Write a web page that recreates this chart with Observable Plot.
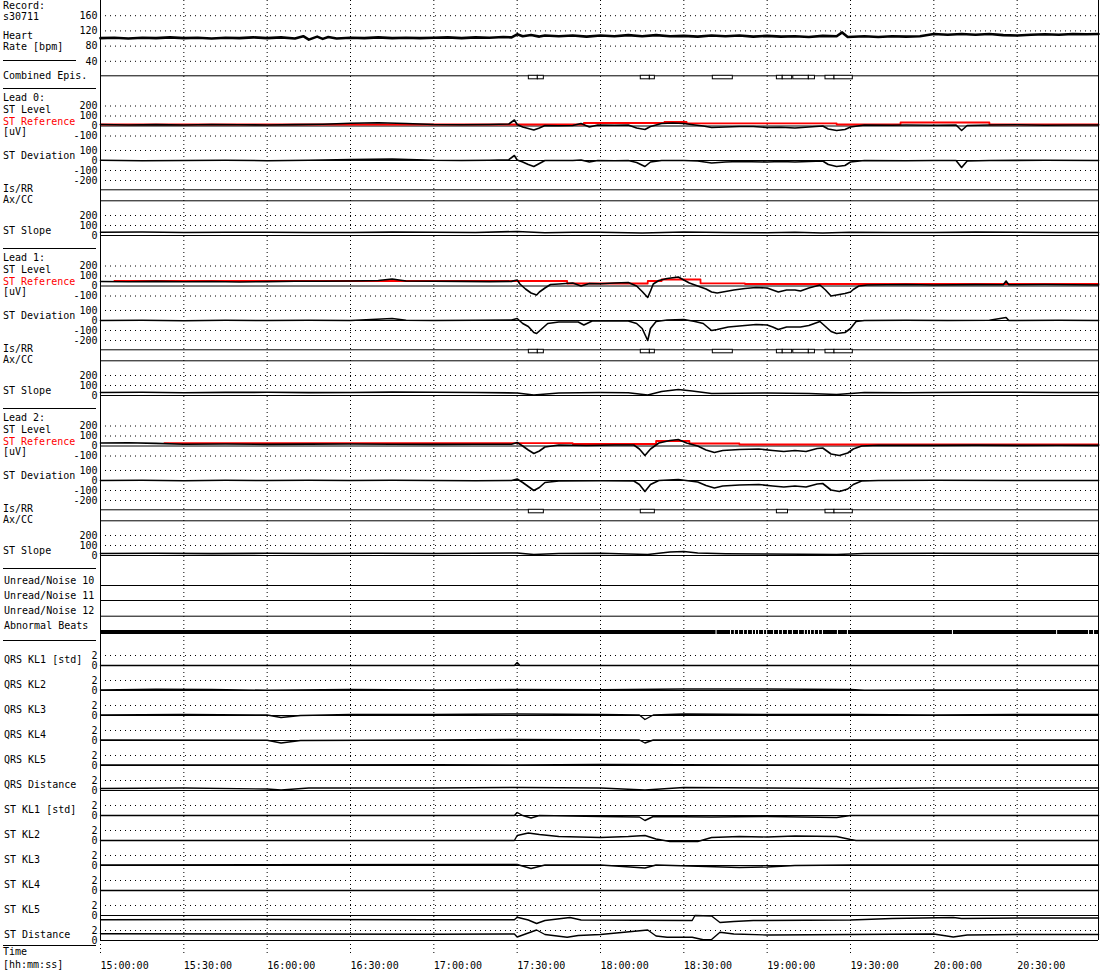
<!DOCTYPE html>
<html><head><meta charset="utf-8">
<script src="https://cdn.jsdelivr.net/npm/d3@7"></script>
<script src="https://cdn.jsdelivr.net/npm/@observablehq/plot@0.6"></script>
<style>
body{margin:0;background:#fff;}
#chart{position:relative;width:1100px;height:970px;font-family:"DejaVu Sans Mono",monospace;font-size:10px;color:#000;}
#chart svg{position:absolute;left:0;top:0;}
.lbl{position:absolute;white-space:pre;line-height:10px;transform:translateY(-50%);}
.sep{position:absolute;height:0;border-top:1px solid #000;}
</style></head><body><div id="chart"></div><script>
// ---------------- DATA ----------------
const RECORD = "s30711";
const START = "15:00", END = "20:59:17", AXIS_END = "21:00";
const timeTicks = ["15:00","15:30","16:00","16:30","17:00","17:30","18:00","18:30","19:00","19:30","20:00","20:30"];
const hrTicks = [40, 80, 120, 160];
const levelTicks = [-100, 0, 100, 200];
const devTicks = [-200, -100, 0, 100];
const slopeTicks = [0, 100, 200];
const klTicks = [0, 2];

const heartRate = [["15:00",101],["15:05",102],["15:10",100],["15:15",102],["15:20",101],["15:25",103],["15:30",101],["15:35",102],["15:40",100],["15:45",102],["15:50",101],["15:55",103],["16:00",101],["16:05",103],["16:10",100],["16:13",106],["16:15",97],["16:18",105],["16:20",99],["16:22",104],["16:25",100],["16:30",102],["16:35",101],["16:40",103],["16:45",101],["16:50",102],["16:55",101],["17:00",102],["17:05",103],["17:10",101],["17:15",103],["17:20",102],["17:25",104],["17:28",103],["17:30",111],["17:32",106],["17:35",109],["17:38",105],["17:40",108],["17:45",106],["17:50",108],["17:55",105],["18:00",108],["18:05",106],["18:10",109],["18:15",106],["18:20",109],["18:25",106],["18:30",107],["18:35",105],["18:40",108],["18:45",106],["18:50",108],["18:55",105],["19:00",107],["19:05",105],["19:10",106],["19:15",104],["19:20",107],["19:25",106],["19:27",116],["19:29",104],["19:35",106],["19:40",104],["19:45",106],["19:50",105],["19:55",106],["20:00",112],["20:05",110],["20:10",112],["20:15",110],["20:20",112],["20:25",109],["20:30",108],["20:35",110],["20:40",111],["20:45",110],["20:50",112],["20:55",111],["20:59:17",112]];

const combinedEpisodes = [["17:34:12","17:37:26"],["17:37:26","17:39:36"],["18:14:30","18:17:46"],["18:17:46","18:19:34"],["18:40:26","18:47:38"],["19:03:30","19:05:36"],["19:05:36","19:09:00"],["19:09:24","19:15:00"],["19:15:00","19:17:12"],["19:21:00","19:24:14"],["19:24:14","19:30:50"]];
const lead0Episodes = [];
const lead1Episodes = [["17:34:12","17:37:26"],["17:37:26","17:39:36"],["18:14:30","18:17:46"],["18:17:46","18:19:34"],["18:40:26","18:47:38"],["19:03:30","19:05:36"],["19:05:36","19:09:00"],["19:09:24","19:15:00"],["19:15:00","19:17:12"],["19:21:00","19:24:14"],["19:24:14","19:30:50"]];
const lead2Episodes = [["17:34:12","17:39:36"],["18:14:30","18:19:34"],["19:03:30","19:07:30"],["19:21:00","19:24:14"],["19:24:14","19:30:50"]];

const abnormalGaps = ["18:41:36","18:46:48","18:48:12","18:49:42","18:51:30","18:52:54","18:54:42","18:55:48","18:56:54","18:58:42","18:59:48","19:02:18","19:04:06","19:05:30","19:07:18","19:09:06","19:11:18","19:13:24","19:14:30","19:15:36","19:17:00","19:18:30","19:19:54","19:25:18","19:28:54","20:06:42","20:44:12","20:55:42","20:57:30"];

const lead0Level = [["15:00",15],["15:10",10],["15:20",14],["15:30",10],["15:40",15],["15:50",12],["16:00",10],["16:10",14],["16:20",18],["16:30",28],["16:40",32],["16:50",25],["17:00",15],["17:10",12],["17:20",15],["17:27",20],["17:29",60],["17:30",15],["17:32",-10],["17:34",-25],["17:36",-40],["17:38",-20],["17:40",5],["17:45",2],["17:50",5],["17:53",25],["17:56",-10],["17:59",10],["18:05",8],["18:10",10],["18:13",-20],["18:16",-35],["18:18",-5],["18:22",25],["18:26",30],["18:30",25],["18:34",10],["18:37",0],["18:40",-15],["18:45",-10],["18:50",-5],["18:55",-5],["19:00",-15],["19:05",-12],["19:10",-20],["19:15",-10],["19:20",0],["19:22",-30],["19:25",-45],["19:28",-35],["19:30",-10],["19:35",10],["19:45",8],["19:50",10],["20:00",8],["20:08",10],["20:10",-45],["20:12",5],["20:20",10],["20:30",12],["20:40",8],["20:50",10],["20:59:17",10]];
const lead0Ref = [["15:00",15],["17:54",15],["17:54:01",30],["18:23",30],["18:23:01",40],["18:31",40],["18:31:01",27],["19:25",27],["19:25:01",15],["19:48",15],["19:48:01",35],["20:20",35],["20:20:01",15],["20:59:17",15]];
const lead0Dev = [["15:00",2],["15:15",-2],["15:30",0],["15:45",3],["16:00",-2],["16:15",2],["16:30",10],["16:45",15],["17:00",2],["17:10",0],["17:20",3],["17:27",8],["17:29",50],["17:30",5],["17:32",-15],["17:34",-40],["17:36",-60],["17:38",-30],["17:40",0],["17:50",0],["17:53",5],["17:56",-15],["17:59",0],["18:05",-2],["18:10",0],["18:13",-20],["18:16",-60],["18:18",-15],["18:22",0],["18:30",0],["18:35",-5],["18:40",-25],["18:45",-15],["18:50",-10],["19:00",-15],["19:05",-10],["19:10",-15],["19:15",-10],["19:20",-5],["19:22",-40],["19:25",-60],["19:28",-50],["19:30",-15],["19:35",0],["19:50",-2],["20:00",0],["20:08",0],["20:10",-70],["20:12",-5],["20:20",0],["20:40",2],["20:59:17",0]];
const lead0Slope = [["15:00",32],["15:15",35],["15:30",30],["15:45",33],["16:00",33],["16:15",30],["16:30",30],["16:45",34],["17:00",32],["17:15",30],["17:30",40],["17:40",28],["17:50",32],["18:00",33],["18:15",25],["18:30",35],["18:45",30],["19:00",28],["19:10",32],["19:20",25],["19:30",32],["19:45",30],["20:00",30],["20:15",34],["20:30",33],["20:45",30],["20:59:17",30]];

const lead1Level = [["15:00",45],["15:10",42],["15:20",46],["15:30",42],["15:40",45],["15:50",40],["16:00",44],["16:10",48],["16:20",47],["16:30",50],["16:40",55],["16:45",70],["16:50",50],["17:00",48],["17:10",46],["17:20",44],["17:28",46],["17:30",60],["17:31",20],["17:33",-30],["17:35",-70],["17:37",-90],["17:38",-60],["17:40",-20],["17:42",15],["17:45",20],["17:50",30],["17:53",0],["17:56",25],["18:00",22],["18:05",30],["18:10",35],["18:13",0],["18:15",-55],["18:17",-115],["18:18",-50],["18:19",20],["18:21",55],["18:24",75],["18:28",90],["18:30",60],["18:32",30],["18:35",0],["18:38",-30],["18:40",-60],["18:42",-70],["18:45",-55],["18:48",-40],["18:52",-25],["18:56",-15],["19:00",-20],["19:02",-40],["19:04",-60],["19:07",-40],["19:10",-40],["19:12",-50],["19:15",-20],["19:19",10],["19:21",-40],["19:23",-100],["19:25",-90],["19:28",-75],["19:30",-60],["19:31",-35],["19:33",0],["19:36",10],["19:50",15],["20:00",10],["20:15",14],["20:25",12],["20:26",50],["20:27",12],["20:40",15],["20:50",12],["20:59:17",10]];
const lead1Ref = [["15:05",50],["17:48",50],["17:48:01",25],["18:17",25],["18:17:01",50],["18:22",50],["18:22:01",65],["18:36",65],["18:36:01",27],["18:52",27],["18:52:01",20],["20:59:17",20]];
const lead1Dev = [["15:00",0],["15:15",3],["15:30",-2],["15:45",2],["16:00",0],["16:15",3],["16:30",0],["16:45",20],["16:50",2],["17:00",0],["17:15",2],["17:28",5],["17:30",20],["17:32",-30],["17:34",-60],["17:36",-120],["17:37",-130],["17:39",-80],["17:41",-30],["17:45",-15],["17:52",-15],["17:54",-45],["17:57",-5],["18:05",-2],["18:10",-5],["18:13",-30],["18:15",-80],["18:17",-200],["18:18",-80],["18:20",-10],["18:24",5],["18:30",10],["18:34",-10],["18:37",-30],["18:40",-100],["18:42",-90],["18:46",-65],["18:52",-50],["18:56",-40],["19:00",-45],["19:02",-65],["19:04",-90],["19:07",-65],["19:12",-65],["19:15",-50],["19:19",-10],["19:21",-60],["19:23",-110],["19:25",-130],["19:28",-120],["19:30",-80],["19:32",-10],["19:35",0],["19:50",2],["20:05",0],["20:20",3],["20:26",30],["20:27",0],["20:45",2],["20:59:17",0]];
const lead1Slope = [["15:00",30],["15:15",33],["15:30",28],["15:45",31],["16:00",32],["16:15",29],["16:30",30],["16:45",34],["17:00",33],["17:15",30],["17:30",25],["17:36",5],["17:45",25],["18:00",30],["18:10",28],["18:17",5],["18:22",40],["18:28",60],["18:33",45],["18:40",20],["18:50",22],["19:00",25],["19:15",20],["19:25",10],["19:35",30],["19:50",28],["20:00",30],["20:15",33],["20:30",32],["20:45",30],["20:59:17",30]];

const lead2Level = [["15:00",30],["15:10",32],["15:20",26],["15:30",18],["15:45",20],["16:00",16],["16:15",19],["16:30",20],["16:45",17],["17:00",16],["17:15",18],["17:28",17],["17:30",35],["17:32",0],["17:34",-40],["17:36",-75],["17:38",-50],["17:40",-10],["17:45",10],["17:55",5],["18:05",10],["18:12",10],["18:14",-30],["18:16",-95],["18:18",-30],["18:21",30],["18:25",55],["18:28",65],["18:31",30],["18:35",0],["18:38",-40],["18:41",-65],["18:44",-45],["18:50",-35],["18:57",-30],["19:02",-45],["19:06",-55],["19:10",-45],["19:14",-55],["19:18",-25],["19:20",-20],["19:23",-80],["19:26",-95],["19:29",-70],["19:31",-30],["19:34",0],["19:40",8],["20:00",6],["20:15",9],["20:30",6],["20:45",8],["20:59:17",6]];
const lead2Ref = [["15:23",28],["17:50",28],["17:50:01",20],["18:20",20],["18:20:01",50],["18:32",50],["18:32:01",25],["18:50",25],["18:50:01",15],["20:59:17",15]];
const lead2Dev = [["15:00",0],["15:15",2],["15:30",-2],["15:45",2],["16:00",0],["16:15",2],["16:30",0],["16:45",2],["17:00",0],["17:15",-2],["17:28",0],["17:30",15],["17:32",-20],["17:34",-60],["17:36",-100],["17:38",-70],["17:40",-20],["17:45",-5],["18:00",-2],["18:12",-5],["18:14",-40],["18:16",-110],["18:18",-40],["18:21",0],["18:28",10],["18:35",-15],["18:38",-50],["18:41",-75],["18:44",-55],["18:50",-45],["18:57",-40],["19:02",-55],["19:06",-65],["19:10",-55],["19:14",-65],["19:18",-35],["19:20",-30],["19:23",-95],["19:26",-110],["19:29",-85],["19:31",-40],["19:34",-5],["19:40",0],["20:00",2],["20:30",0],["20:59:17",0]];
const lead2Slope = [["15:00",20],["15:20",22],["15:40",19],["16:00",22],["16:20",20],["16:40",23],["17:00",20],["17:15",22],["17:30",25],["17:36",10],["17:45",20],["18:00",22],["18:17",10],["18:25",35],["18:30",40],["18:35",25],["18:45",18],["19:00",15],["19:25",10],["19:35",20],["20:00",22],["20:30",20],["20:59:17",20]];

const qrsKL1 = [["15:00",0],["17:29",0],["17:30",0.6],["17:31",0],["20:59:17",0]];
const qrsKL2 = [["15:00",0.1],["15:20",0.25],["15:40",0.2],["16:00",0.05],["16:30",0.2],["17:00",0.1],["17:30",0.2],["18:00",0.15],["18:30",0.3],["19:00",0.3],["19:30",0.2],["19:35",0.05],["20:00",0.1],["20:30",0.1],["20:59:17",0.1]];
const qrsKL3 = [["15:00",0.1],["15:30",0.2],["16:00",0.1],["16:05",-0.4],["16:12",0.0],["16:30",0.2],["17:00",0.2],["17:30",0.3],["18:00",0.2],["18:14",0.1],["18:16",-0.8],["18:19",0.1],["18:30",0.3],["19:00",0.2],["19:30",0.2],["20:00",0.1],["20:30",0.2],["20:59:17",0.2]];
const qrsKL4 = [["15:00",0.1],["16:00",0.05],["16:05",-0.5],["16:12",0],["17:00",0.1],["17:30",0.2],["18:14",0.1],["18:16",-0.5],["18:19",0.1],["19:00",0.1],["20:00",0.1],["20:59:17",0.1]];
const qrsKL5 = [["15:00",0.1],["16:00",0.1],["17:00",0.15],["17:30",0.1],["18:00",0.2],["19:00",0.1],["20:00",0.1],["20:59:17",0.1]];
const qrsDistance = [["15:00",0.4],["15:30",0.5],["16:00",0.3],["16:05",0.1],["16:15",0.5],["17:00",0.5],["17:30",0.6],["18:00",0.5],["18:16",0.1],["18:30",0.6],["19:00",0.5],["19:30",0.4],["20:00",0.5],["20:59:17",0.5]];
const stKL1 = [["15:00",0],["17:29",0],["17:30",0.6],["17:32",0],["17:35",-0.5],["17:38",0],["18:00",-0.2],["18:14",-0.3],["18:16",-1.0],["18:19",-0.2],["18:40",-0.3],["19:00",-0.2],["19:25",-0.4],["19:30",0],["20:59:17",0]];
const stKL2 = [["15:00",0],["17:29",0],["17:30",1.0],["17:34",1.5],["17:38",1.2],["17:45",0.8],["18:00",0.6],["18:10",0.8],["18:16",1.0],["18:20",0.3],["18:25",-0.2],["18:35",-0.2],["18:40",0.6],["18:50",0.8],["19:00",0.7],["19:10",0.9],["19:25",0.8],["19:30",0.2],["19:32",0],["20:59:17",0]];
const stKL3 = [["15:00",0.1],["17:30",0.2],["17:35",-0.6],["17:40",0.1],["18:00",0.1],["18:16",-0.5],["18:20",0.1],["18:50",-0.4],["19:00",-0.3],["19:10",0],["19:30",0.1],["20:59:17",0.1]];
const stKL4 = [["15:00",0],["20:59:17",0]];
const stKL5 = [["15:00",-0.85],["16:00",-0.8],["17:00",-0.85],["17:29",-0.85],["17:30",-0.35],["17:34",-0.9],["17:37",-1.6],["17:40",-1.0],["17:46",-0.6],["17:49",-0.4],["17:53",-0.9],["18:33",-1.0],["18:34",0],["18:40",-0.1],["18:43",-1.4],["18:48",-1.2],["18:55",-1.0],["19:30",-0.9],["19:45",-0.6],["20:07",-0.4],["20:10",-0.6],["20:30",-0.5],["20:59:17",-0.5]];
const stDistance = [["15:00",1.35],["16:00",1.3],["17:00",1.25],["17:29",1.3],["17:30",0.7],["17:37",2.1],["17:40",1.2],["17:48",0.65],["17:52",1.0],["18:00",1.2],["18:17",2.1],["18:20",0.9],["18:24",0.65],["18:33",0.65],["18:37",0.15],["18:40",0.2],["18:43",1.65],["18:48",1.3],["19:00",1.1],["19:30",1.2],["20:00",1.3],["20:07",0.7],["20:12",1.1],["20:30",1.2],["20:59:17",1.2]];

// ---------------- HELPERS ----------------
const FONT = '"DejaVu Sans Mono", monospace';
const clock = s => { const [h, m, sec = 0] = s.split(":").map(Number); return new Date(2000, 0, 1, h, m, sec); };
const T0 = clock(START), TEND = clock(END), T1 = clock(AXIS_END);
const rows = pairs => pairs.map(([t, v]) => ({t: clock(t), v}));
const chart = document.getElementById("chart");
const W = 1100, H = 970;
const styleObj = {position: "absolute", left: "0px", top: "0px", background: "transparent", fontFamily: FONT, fontSize: "10px", overflow: "visible"};

function overlay(y, marks) {
  chart.appendChild(Plot.plot({
    width: W, height: H, marginLeft: 100, marginRight: 0, marginTop: 0, marginBottom: 0,
    x: {type: "time", domain: [T0, T1], axis: null},
    y: {...y, axis: null},
    style: styleObj,
    marks
  }));
}
const fromT0 = () => T0, toEnd = () => TEND;
const dotted = vals => Plot.ruleY(vals, {x1: fromT0, x2: toEnd, stroke: "#000", strokeDasharray: "1,4"});
const solid = vals => Plot.ruleY(vals, {x1: fromT0, x2: toEnd, stroke: "#000", strokeWidth: 1});
const yAxis = ticks => Plot.axisY(ticks, {anchor: "left", tickSize: 0, tickPadding: 3, tickFormat: d => String(d), label: null, fontSize: 10});
const trace = (data, color = "#000", w = 1.5) => Plot.line(rows(data), {x: "t", y: "v", stroke: color, strokeWidth: w, curve: "linear"});

// background: vertical grid + time axis
chart.appendChild(Plot.plot({
  width: W, height: H, marginLeft: 100, marginRight: 0, marginTop: 0, marginBottom: 15,
  x: {type: "time", domain: [T0, T1]},
  style: styleObj,
  marks: [
    Plot.ruleX(timeTicks.map(clock), {stroke: "#000", strokeDasharray: "1,3"}),
    Plot.axisX(timeTicks.map(clock), {anchor: "bottom", tickSize: 0, tickPadding: 6, textAnchor: "start", tickFormat: d3.timeFormat("%H:%M:%S"), label: null, fontSize: 10})
  ]
}));

// heart rate
overlay({domain: [40, 160], range: [60.8, 15.2]}, [
  dotted(hrTicks), yAxis(hrTicks), trace(heartRate, "#000", 2.6)
]);

// episode rows
function episodes(lineY, eps) {
  overlay({domain: [0, 1], range: [lineY, lineY + 3.5]}, [
    solid([0]),
    Plot.rect(eps, {x1: d => clock(d[0]), x2: d => clock(d[1]), y1: 0, y2: 1, fill: "white", stroke: "#000", strokeWidth: 1})
  ]);
}
episodes(75.3, combinedEpisodes);

// leads
const leads = [
  {level: lead0Level, ref: lead0Ref, dev: lead0Dev, slope: lead0Slope, eps: lead0Episodes},
  {level: lead1Level, ref: lead1Ref, dev: lead1Dev, slope: lead1Slope, eps: lead1Episodes},
  {level: lead2Level, ref: lead2Ref, dev: lead2Dev, slope: lead2Slope, eps: lead2Episodes}
];
leads.forEach((L, i) => {
  const o = 160 * i;
  overlay({domain: [-100, 200], range: [135.5 + o, 105.5 + o]}, [
    dotted([-100, 100, 200]), solid([0]), yAxis(levelTicks), trace(L.ref, "#ff0000", 1.8), trace(L.level, "#000", 1.6)
  ]);
  overlay({domain: [-200, 100], range: [180 + o, 150 + o]}, [
    dotted([-200, -100, 100]), solid([0]), yAxis(devTicks), trace(L.dev, "#000", 1.6)
  ]);
  episodes(189.3 + o, L.eps);
  episodes(200.3 + o, []);
  overlay({domain: [0, 200], range: [235 + o, 215 + o]}, [
    dotted([100, 200]), solid([0]), yAxis(slopeTicks), trace(L.slope, "#000", 1.6)
  ]);
});

// noise rows
[585, 600, 615.7].forEach(yy => episodes(yy, []));
// abnormal beats
overlay({domain: [0, 1], range: [630, 634]}, [
  Plot.rect([0], {x1: fromT0, x2: toEnd, y1: 0, y2: 1, fill: "#000"}),
  Plot.ruleX(abnormalGaps.map(clock), {y1: 0, y2: 1, stroke: "#fff", strokeWidth: 1})
]);

// KL rows
const klSeries = [qrsKL1, qrsKL2, qrsKL3, qrsKL4, qrsKL5, qrsDistance, stKL1, stKL2, stKL3, stKL4, stKL5, stDistance];
klSeries.forEach((s, k) => {
  overlay({domain: [0, 2], range: [665 + 25 * k, 655 + 25 * k]}, [
    dotted([2]), solid([0]), yAxis(klTicks), trace(s, "#000", 1.4)
  ]);
});

// frame
overlay({domain: [0, 1], range: [0, 940]}, [
  Plot.ruleX([T0, TEND], {y1: 0, y2: 1, stroke: "#000", strokeWidth: 1})
]);

// ---------------- LABELS ----------------
const klNames = ["QRS KL1 [std]", "QRS KL2", "QRS KL3", "QRS KL4", "QRS KL5", "QRS Distance", "ST KL1 [std]", "ST KL2", "ST KL3", "ST KL4", "ST KL5", "ST Distance"];
const labels = [["Record:", 6], [RECORD, 17], ["Heart", 36], ["Rate [bpm]", 47], ["Combined Epis.", 76]];
[0, 1, 2].forEach(i => {
  const o = 160 * i;
  labels.push([`Lead ${i}:`, 98 + o], ["ST Level", 110 + o], ["ST Reference", 121.5 + o, "#ff0000"], ["[uV]", 132 + o],
    ["ST Deviation", 156 + o], ["Is/RR", 188.5 + o], ["Ax/CC", 200.3 + o], ["ST Slope", 231 + o]);
});
labels.push(["Unread/Noise 10", 581], ["Unread/Noise 11", 595.5], ["Unread/Noise 12", 610.5], ["Abnormal Beats", 626]);
klNames.forEach((n, k) => labels.push([n, 660 + 25 * k]));
labels.push(["Time", 952], ["[hh:mm:ss]", 965]);
labels.forEach(([txt, yy, col]) => {
  const d = document.createElement("div");
  d.className = "lbl"; d.textContent = txt;
  d.style.left = (/KL|Distance|Unread|Abnormal/.test(txt) ? 4 : 3) + "px";
  d.style.top = yy + "px";
  if (col) d.style.color = col;
  chart.appendChild(d);
});
[[60, 73], [88, 93], [248, 93], [408, 93], [568, 93], [640, 93], [945, 93]].forEach(([yy, w]) => {
  const d = document.createElement("div");
  d.className = "sep"; d.style.left = "3px"; d.style.top = yy + "px"; d.style.width = w + "px";
  chart.appendChild(d);
});
</script></body></html>
